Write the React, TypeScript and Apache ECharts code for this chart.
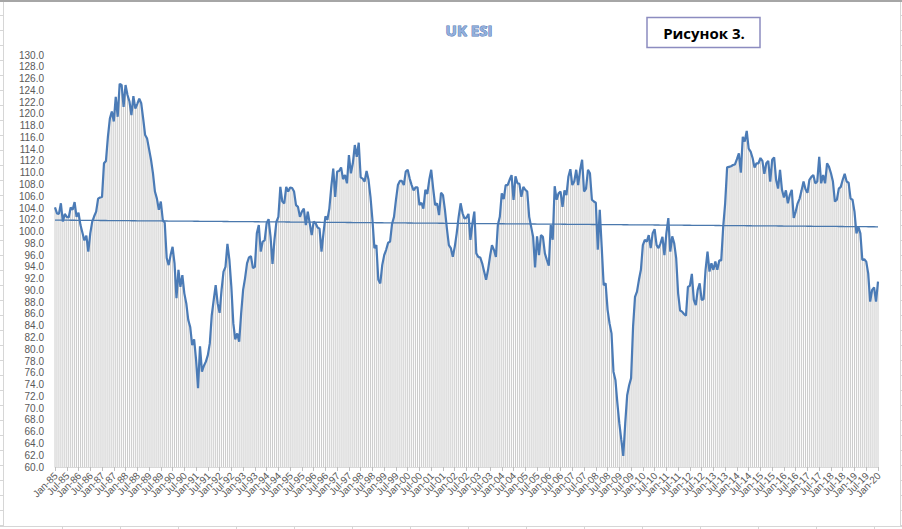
import React, { useEffect, useRef } from "react";
import * as echarts from "echarts";

const monthNames = ["Jan", "Feb", "Mar", "Apr", "May", "Jun", "Jul", "Aug", "Sep", "Oct", "Nov", "Dec"];
const firstYear = 1985;
const labelEvery = 6;

const esi1985_1989 = [
  104.1, 103.1, 103.0, 104.8, 101.7, 103.0, 102.5, 102.4, 104.1, 103.7, 105.0, 102.5,
  103.2, 101.1, 99.8, 98.5, 99.3, 96.6, 99.7, 101.7, 102.6, 103.4, 105.6, 105.8,
  105.9, 111.6, 112.0, 116.1, 119.2, 120.4, 118.7, 122.9, 119.5, 125.1, 124.9, 121.2,
  124.9, 123.2, 122.1, 119.8, 123.0, 120.9, 121.7, 122.6, 121.8, 119.2, 116.4, 115.8,
  114.0, 112.2, 109.9, 106.8, 105.6, 103.7, 105.1, 102.0, 101.5, 95.5, 94.3, 96.0,
];
const esi1990_1994 = [
  97.4, 94.6, 88.7, 93.5, 90.6, 92.6, 89.5, 87.8, 85.0, 83.8, 80.7, 81.7,
  78.2, 73.4, 80.5, 76.2, 77.2, 77.9, 79.0, 81.0, 85.8, 88.4, 90.9, 87.8,
  86.2, 90.1, 93.2, 94.0, 97.9, 95.2, 90.6, 84.4, 81.7, 82.7, 81.3, 86.1,
  90.1, 92.1, 94.6, 95.6, 95.8, 93.8, 94.0, 99.7, 101.1, 96.6, 98.3, 98.5,
  101.4, 102.1, 99.1, 94.5, 98.6, 101.7, 102.5, 107.6, 105.1, 104.8, 107.6, 106.8,
];
const esi1995_1999 = [
  107.5, 107.4, 106.8, 104.5, 104.2, 102.5, 103.4, 103.9, 101.1, 103.4, 101.4, 99.4,
  101.7, 101.4, 100.7, 100.5, 96.6, 99.7, 102.6, 102.0, 103.9, 107.6, 110.7, 105.9,
  110.2, 110.3, 110.9, 108.9, 109.6, 108.2, 113.0, 109.9, 111.6, 114.7, 112.7, 115.1,
  109.2, 109.0, 108.5, 110.3, 108.8, 105.9, 102.0, 97.2, 97.7, 91.8, 91.2, 94.3,
  96.0, 96.9, 98.1, 98.3, 101.3, 102.5, 105.4, 107.9, 108.6, 108.6, 107.9, 110.2,
];
const esi2000_2004 = [
  110.5, 109.0, 107.9, 107.0, 107.5, 107.5, 104.5, 104.9, 103.9, 107.1, 106.4, 108.8,
  110.5, 107.3, 104.5, 104.8, 102.8, 106.6, 106.2, 103.7, 100.5, 97.7, 97.2, 95.7,
  97.4, 99.7, 102.5, 104.8, 103.1, 102.2, 102.4, 103.0, 98.6, 101.3, 103.4, 96.3,
  95.7, 95.6, 94.6, 93.2, 91.8, 93.5, 95.8, 97.7, 96.9, 95.7, 101.1, 102.5,
  106.5, 105.5, 107.9, 107.9, 108.8, 109.6, 105.4, 109.4, 108.2, 108.1, 105.9, 107.6,
];
const esi2005_2009 = [
  107.1, 106.8, 102.5, 100.8, 99.1, 93.9, 99.2, 96.0, 99.4, 99.1, 96.3, 95.2,
  94.2, 101.1, 98.6, 107.7, 105.4, 106.5, 106.8, 104.2, 107.0, 106.2, 109.3, 110.6,
  107.9, 108.5, 110.5, 107.9, 110.5, 112.2, 106.8, 107.3, 110.5, 109.9, 105.4, 105.1,
  104.9, 96.9, 103.7, 97.4, 90.9, 91.2, 86.7, 84.4, 82.7, 76.2, 74.8, 70.8,
  67.4, 64.6, 61.9, 67.4, 72.2, 73.9, 75.1, 83.8, 88.9, 89.8, 91.8, 93.5,
];
const esi2010_2014 = [
  97.7, 98.6, 98.3, 99.4, 97.2, 99.7, 100.4, 97.7, 97.2, 98.0, 99.1, 96.0,
  99.7, 102.3, 96.6, 99.2, 98.0, 95.5, 89.5, 86.6, 86.4, 86.0, 85.7, 90.6,
  90.8, 92.8, 88.4, 87.5, 90.1, 91.2, 88.4, 88.5, 93.5, 96.6, 93.2, 94.6,
  93.5, 94.9, 93.5, 95.1, 95.1, 100.8, 104.8, 110.9, 111.0, 111.1, 111.3, 111.4,
  112.3, 113.3, 110.0, 116.1, 115.3, 117.1, 114.1, 113.6, 112.5, 110.9, 111.6, 111.6,
];
const esi2015_2019 = [
  112.5, 112.0, 109.8, 111.6, 112.0, 108.5, 112.2, 112.6, 108.8, 107.3, 110.5, 107.1,
  105.8, 107.0, 104.8, 106.2, 107.1, 102.3, 103.4, 104.8, 105.6, 107.0, 108.5, 107.2,
  106.6, 108.8, 109.3, 109.6, 108.2, 108.5, 112.7, 108.2, 109.6, 108.2, 111.6, 111.0,
  109.9, 108.5, 105.1, 105.4, 107.3, 107.6, 108.8, 109.8, 108.5, 108.3, 105.6, 105.4,
  103.4, 99.7, 100.8, 99.7, 95.2, 95.3, 94.9, 92.9, 88.1, 90.1, 90.5, 88.1,
];
const esi2020 = [91.5];

const esiValues = [
  ...esi1985_1989,
  ...esi1990_1994,
  ...esi1995_1999,
  ...esi2000_2004,
  ...esi2005_2009,
  ...esi2010_2014,
  ...esi2015_2019,
  ...esi2020,
];

const categories = esiValues.map((_, i) => {
  const yy = (firstYear + Math.floor(i / 12)) % 100;
  return monthNames[i % 12] + "-" + String(yy).padStart(2, "0");
});

const tickLabels = categories
  .map((label, i) => [i, label] as [number, string])
  .filter(([i]) => i % labelEvery === 0);

const Y_MIN = 60;
const Y_MAX = 130;
const Y_STEP = 2;

function linearTrend(vals: number[]): number[] {
  const n = vals.length;
  let sx = 0, sy = 0, sxx = 0, sxy = 0;
  for (let i = 0; i < n; i++) {
    sx += i; sy += vals[i]; sxx += i * i; sxy += i * vals[i];
  }
  const b = (n * sxy - sx * sy) / (n * sxx - sx * sx);
  const a = (sy - b * sx) / n;
  return vals.map((_, i) => +(a + b * i).toFixed(3));
}

export default function App() {
  const ref = useRef<HTMLDivElement>(null);

  useEffect(() => {
    if (!ref.current) return;
    const chart = echarts.init(ref.current, undefined, { renderer: "svg" });
    const trend = linearTrend(esiValues);

    const frame: any[] = [
      { type: "line", shape: { x1: 0, y1: 1, x2: 902, y2: 1 }, style: { stroke: "#a6a6a6", lineWidth: 2 }, silent: true },
      { type: "line", shape: { x1: 3.5, y1: 2, x2: 3.5, y2: 526 }, style: { stroke: "#d6d6d6", lineWidth: 1 }, silent: true },
      { type: "line", shape: { x1: 900.5, y1: 2, x2: 900.5, y2: 526 }, style: { stroke: "#d6d6d6", lineWidth: 1 }, silent: true },
      { type: "line", shape: { x1: 0, y1: 526.5, x2: 902, y2: 526.5 }, style: { stroke: "#d6d6d6", lineWidth: 1 }, silent: true },
    ];
    for (let y = 15; y < 526; y += 15) {
      frame.push({ type: "line", shape: { x1: 0, y1: y + 0.5, x2: 3, y2: y + 0.5 }, style: { stroke: "#d6d6d6", lineWidth: 1 }, silent: true });
      frame.push({ type: "line", shape: { x1: 901, y1: y + 0.5, x2: 902, y2: y + 0.5 }, style: { stroke: "#d6d6d6", lineWidth: 1 }, silent: true });
    }
    for (let x = 62; x < 902; x += 58) {
      frame.push({ type: "line", shape: { x1: x + 0.5, y1: 527, x2: x + 0.5, y2: 529 }, style: { stroke: "#d6d6d6", lineWidth: 1 }, silent: true });
    }

    chart.setOption({
      animation: false,
      backgroundColor: "#ffffff",
      grid: { left: 55, right: 24, top: 55, bottom: 62, containLabel: false },
      xAxis: {
        type: "category",
        data: categories,
        boundaryGap: false,
        axisLine: { show: true, lineStyle: { color: "#d9d9d9", width: 1 } },
        axisTick: { show: true, interval: labelEvery - 1, length: 4, lineStyle: { color: "#bfbfbf" } },
        axisLabel: { show: false },
        splitLine: { show: false },
      },
      yAxis: {
        type: "value",
        min: Y_MIN,
        max: Y_MAX,
        interval: Y_STEP,
        axisLine: { show: false },
        axisTick: { show: false },
        splitLine: { show: false },
        axisLabel: {
          formatter: (v: number) => v.toFixed(1),
          fontSize: 10,
          lineHeight: 10,
          color: "#595959",
          fontFamily: "Liberation Sans",
          margin: 11,
        },
      },
      series: [
        {
          type: "custom",
          name: "drop",
          silent: true,
          z: 1,
          data: esiValues.map((v, i) => [i, v]),
          encode: { x: 0, y: 1 },
          renderItem: (params: any, api: any) => {
            const idx = api.value(0);
            const top = api.coord([idx, api.value(1)]);
            const bottom = api.coord([idx, Y_MIN]);
            return {
              type: "line",
              shape: { x1: top[0], y1: top[1], x2: bottom[0], y2: bottom[1] },
              style: { stroke: "#cccccc", lineWidth: 1 },
            };
          },
        },
        {
          type: "custom",
          name: "xlabels",
          silent: true,
          clip: false,
          z: 4,
          data: tickLabels.map(([i]) => [i, Y_MIN]),
          encode: { x: 0, y: 1 },
          renderItem: (params: any, api: any) => {
            const idx = api.value(0);
            const p = api.coord([idx, Y_MIN]);
            return {
              type: "text",
              x: p[0] + 1,
              y: p[1] + 7,
              rotation: Math.PI / 4,
              style: {
                text: categories[idx],
                fontFamily: "Liberation Sans",
                fontSize: 10,
                fill: "#595959",
                align: "right",
                verticalAlign: "middle",
              },
            };
          },
        },
        {
          type: "line",
          name: "trend",
          data: trend,
          showSymbol: false,
          symbol: "none",
          silent: true,
          z: 2,
          lineStyle: { color: "#4a78ad", width: 1.3 },
        },
        {
          type: "line",
          name: "UK ESI",
          data: esiValues,
          showSymbol: false,
          symbol: "none",
          z: 3,
          lineStyle: { color: "#4b7bb6", width: 2.2 },
        },
      ],
      graphic: [
        ...frame,
        {
          type: "text",
          x: 469,
          y: 30,
          silent: true,
          style: {
            text: "UK ESI",
            fontFamily: "Open Sans",
            fontWeight: "bold",
            fontSize: 15,
            fill: "#93afdc",
            stroke: "#5479b3",
            lineWidth: 1,
            align: "center",
            verticalAlign: "middle",
          },
        },
        {
          type: "group",
          silent: true,
          children: [
            {
              type: "rect",
              shape: { x: 647, y: 17.5, width: 113, height: 30 },
              style: { fill: "#ffffff", stroke: "#8c8cc0", lineWidth: 1.5 },
            },
            {
              type: "text",
              x: 704,
              y: 33,
              style: {
                text: "Рисунок 3.",
                fontFamily: "Open Sans",
                fontWeight: "bold",
                fontSize: 15,
                fill: "#000000",
                align: "center",
                verticalAlign: "middle",
              },
            },
          ],
        },
      ],
    });

    return () => chart.dispose();
  }, []);

  return (
    <div
      ref={ref}
      style={{ position: "fixed", left: 0, top: 0, width: 902, height: 529 }}
    />
  );
}
